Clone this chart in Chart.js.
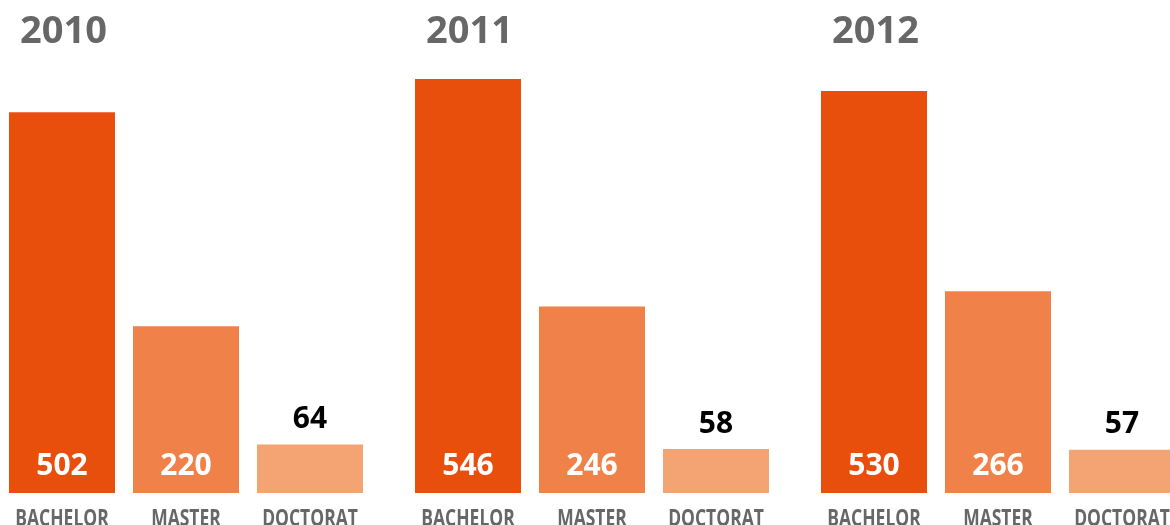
<!DOCTYPE html>
<html>
<head>
<meta charset="utf-8">
<script src="https://cdn.jsdelivr.net/npm/chart.js@4/dist/chart.umd.min.js"></script>
<style>
  html, body { margin: 0; padding: 0; background: #fff; overflow: hidden; }
  #wrap { position: relative; width: 1170px; height: 525px; overflow: hidden; }
  #myChart { position: absolute; left: -17px; top: 0; }
</style>
</head>
<body>
<div id="wrap">
  <canvas id="myChart" width="1218" height="525"></canvas>
</div>
<script>
// data
const years = ["2010", "2011", "2012"];
const degrees = ["BACHELOR", "MASTER", "DOCTORAT"];
const bachelor = [502, 546, 530];
const master = [220, 246, 266];
const doctorat = [64, 58, 57];

const colors = ["#E84F0C", "#F08149", "#F4A472"];
const gray = "#676767";

// year titles above each group
const yearTitles = {
    id: "yearTitles",
    afterDraw(chart) {
        const ctx = chart.ctx;
        const first = chart.getDatasetMeta(0).data;
        ctx.save();
        ctx.font = "bold 38px 'Open Sans'";
        ctx.fillStyle = gray;
        ctx.textAlign = "left";
        ctx.textBaseline = "middle";
        first.forEach((bar, i) => {
            const left = bar.x - bar.width / 2;
            ctx.fillText(years[i], left + 11, 32);
        });
        ctx.restore();
    }
};

// value labels: white inside tall bars, black above the short ones
const valueLabels = {
    id: "valueLabels",
    afterDatasetsDraw(chart) {
        const ctx = chart.ctx;
        ctx.save();
        ctx.font = "bold 30px 'Open Sans'";
        ctx.textAlign = "center";
        ctx.textBaseline = "middle";
        chart.data.datasets.forEach((ds, di) => {
            chart.getDatasetMeta(di).data.forEach((bar, i) => {
                const v = ds.data[i];
                if (di < 2) {
                    ctx.fillStyle = "#fff";
                    ctx.fillText(v, bar.x, bar.base - 27);
                } else {
                    ctx.fillStyle = "#000";
                    ctx.fillText(v, bar.x, bar.y - 25);
                }
            });
        });
        ctx.restore();
    }
};

// degree names under every bar (condensed look: squeeze Open Sans)
const degreeLabels = {
    id: "degreeLabels",
    afterDraw(chart) {
        const c = chart.ctx;
        const squeeze = 0.76;
        c.save();
        c.font = "bold 23px 'Open Sans'";
        c.fillStyle = gray;
        c.textAlign = "center";
        c.textBaseline = "alphabetic";
        chart.data.datasets.forEach((ds, di) => {
            chart.getDatasetMeta(di).data.forEach(bar => {
                c.save();
                c.translate(bar.x, bar.base + 33);
                c.scale(squeeze, 1);
                c.fillText(degrees[di], 0, 0);
                c.restore();
            });
        });
        c.restore();
    }
};

const ctx = document.getElementById("myChart");
new Chart(ctx, {
    type: "bar",
    data: {
        labels: years,
        datasets: [
            { label: degrees[0], data: bachelor, backgroundColor: colors[0] },
            { label: degrees[1], data: master, backgroundColor: colors[1] },
            { label: degrees[2], data: doctorat, backgroundColor: colors[2] }
        ]
    },
    options: {
        responsive: false,
        animation: false,
        events: [],
        categoryPercentage: 0.9163,
        barPercentage: 0.8548,
        layout: { padding: { top: 0, left: 0, right: 0, bottom: 32 } },
        plugins: { legend: { display: false }, tooltip: { enabled: false } },
        scales: {
            x: {
                grid: { display: false, drawTicks: false },
                border: { display: false },
                ticks: { display: false }
            },
            y: {
                display: false,
                min: 0,
                max: 650
            }
        }
    },
    plugins: [yearTitles, valueLabels, degreeLabels]
});
</script>
</body>
</html>
